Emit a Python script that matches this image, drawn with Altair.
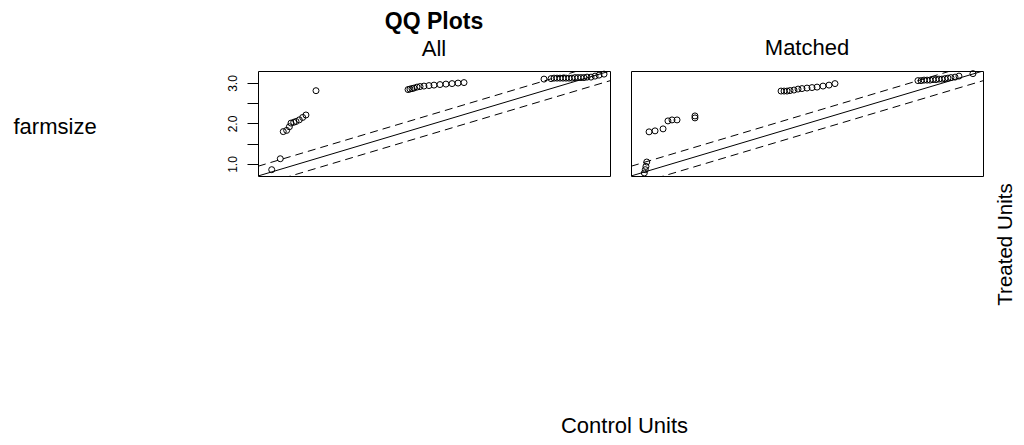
import altair as alt
import pandas as pd

# ---- data (farmsize QQ plot) ----
ALL_CONTROL = [0.805, 0.868, 0.890, 0.915, 0.935, 0.947, 0.967, 0.984, 1.008, 1.033, 1.057, 1.131,
               1.809, 1.823, 1.838, 1.853, 1.875, 1.897, 1.926, 1.963, 2.000, 2.044, 2.088, 2.133, 2.177, 2.221,
               2.810, 2.862, 2.884, 2.906, 2.928, 2.950, 2.972, 2.994, 3.016, 3.038, 3.060, 3.082, 3.104, 3.127,
               3.156, 3.186, 3.215, 3.252]
ALL_TREATED = [0.860, 1.130, 1.800, 1.830, 1.920, 2.010, 2.030, 2.050, 2.090, 2.150, 2.210, 2.810,
               2.838, 2.850, 2.862, 2.875, 2.899, 2.912, 2.924, 2.936, 2.948, 2.961, 2.973, 2.985, 2.998, 3.010,
               3.096, 3.108, 3.120, 3.120, 3.120, 3.120, 3.120, 3.120, 3.120, 3.133, 3.133, 3.133, 3.133, 3.145,
               3.145, 3.170, 3.194, 3.219]

MATCHED_CONTROL = [0.802, 0.809, 0.814, 0.820,
                   0.837, 0.881, 0.940, 0.976, 1.006, 1.043, 1.175, 1.175,
                   1.809, 1.831, 1.853, 1.875, 1.904, 1.934, 1.963, 2.000, 2.037, 2.074, 2.118, 2.162, 2.206,
                   2.817, 2.840, 2.862, 2.884, 2.906, 2.928, 2.950, 2.972, 2.994, 3.016, 3.038, 3.060, 3.090,
                   3.119, 3.222]
MATCHED_TREATED = [0.779, 0.860, 0.941, 1.049,
                   1.794, 1.818, 1.867, 2.064, 2.088, 2.088, 2.138, 2.187,
                   2.801, 2.801, 2.801, 2.813, 2.826, 2.850, 2.862, 2.875, 2.887, 2.899, 2.924, 2.948, 2.985,
                   3.059, 3.059, 3.071, 3.071, 3.071, 3.084, 3.084, 3.096, 3.096, 3.108, 3.120, 3.133, 3.145,
                   3.170, 3.231]

DOMAIN = [0.704, 3.296]
LINE_OFFSETS = [0.0, 0.24, -0.24]
Y_TICKS = [1.0, 1.5, 2.0, 2.5, 3.0]

FONT = "Liberation Sans"

pts_all = pd.DataFrame({"control": ALL_CONTROL, "treated": ALL_TREATED})
pts_matched = pd.DataFrame({"control": MATCHED_CONTROL, "treated": MATCHED_TREATED})
lines = pd.DataFrame(
    [{"control": x, "treated": x + off, "line": str(off), "dashed": off != 0}
     for off in LINE_OFFSETS for x in DOMAIN]
)

scale = alt.Scale(domain=DOMAIN, nice=False, zero=False)


def panel(pts, x_axis, y_axis, title):
    def enc(ch):
        return ch.encode(
            x=alt.X("control:Q", scale=scale, axis=x_axis),
            y=alt.Y("treated:Q", scale=scale, axis=y_axis),
        )

    solid = enc(alt.Chart(lines).transform_filter("!datum.dashed").mark_line(
        clip=True, color="black", strokeWidth=1)).encode(detail="line:N")
    dashed = enc(alt.Chart(lines).transform_filter("datum.dashed").mark_line(
        clip=True, color="black", strokeWidth=1, strokeDash=[8, 5])).encode(detail="line:N")
    points = enc(alt.Chart(pts).mark_point(
        shape="circle", filled=False, color="black", size=36, strokeWidth=1, opacity=1))
    return alt.layer(solid, dashed, points).properties(width=352, height=105, title=title)


left_y_axis = alt.Axis(
    values=Y_TICKS,
    labelExpr="datum.value % 1 == 0 ? format(datum.value, '.1f') : ''",
    labelAngle=270, labelAlign="center", labelBaseline="bottom", labelPadding=8,
    labelFontSize=12, labelColor="black", labelOverlap=False, labelFlush=False,
    tickSize=11, tickColor="black", tickWidth=1,
    domain=False, grid=False,
    title="farmsize", titleAngle=0, titleAlign="left", titleBaseline="alphabetic",
    titleX=-245, titleY=62, titleFontSize=22, titleFontWeight="normal", titleColor="black",
)

right_y_axis = alt.Axis(
    orient="right", labels=False, ticks=False, domain=False, grid=False,
    title="Treated Units", titleAngle=270, titleAlign="center", titleBaseline="middle",
    titleX=22, titleY=173, titleFontSize=20.5, titleFontWeight="normal", titleColor="black",
)

right_x_axis = alt.Axis(
    labels=False, ticks=False, domain=False, grid=False,
    title="Control Units", titleAlign="center", titleBaseline="alphabetic",
    titleX=-7, titleY=256, titleFontSize=22, titleFontWeight="normal", titleColor="black",
)

left_title = alt.TitleParams(
    text="QQ Plots", subtitle="All", font=FONT, subtitleFont=FONT,
    fontSize=23, fontWeight="bold", subtitleFontSize=22, subtitleFontWeight="normal",
    color="black", subtitleColor="black", anchor="middle", offset=9, subtitlePadding=5,
)
right_title = alt.TitleParams(
    text="Matched", font=FONT, fontSize=22, fontWeight="normal",
    color="black", anchor="middle", offset=9,
)

left = panel(pts_all, None, left_y_axis, left_title)
right = panel(pts_matched, right_x_axis, right_y_axis, right_title)

chart = (
    alt.hconcat(left, right, spacing=21, bounds="flush")
    .properties(padding={"left": 4, "top": 2, "right": 0, "bottom": 0})
    .configure(font=FONT)
    .configure_view(stroke="black", strokeWidth=1)
)

chart.save("out.html", embed_options={"renderer": "svg", "actions": False})
